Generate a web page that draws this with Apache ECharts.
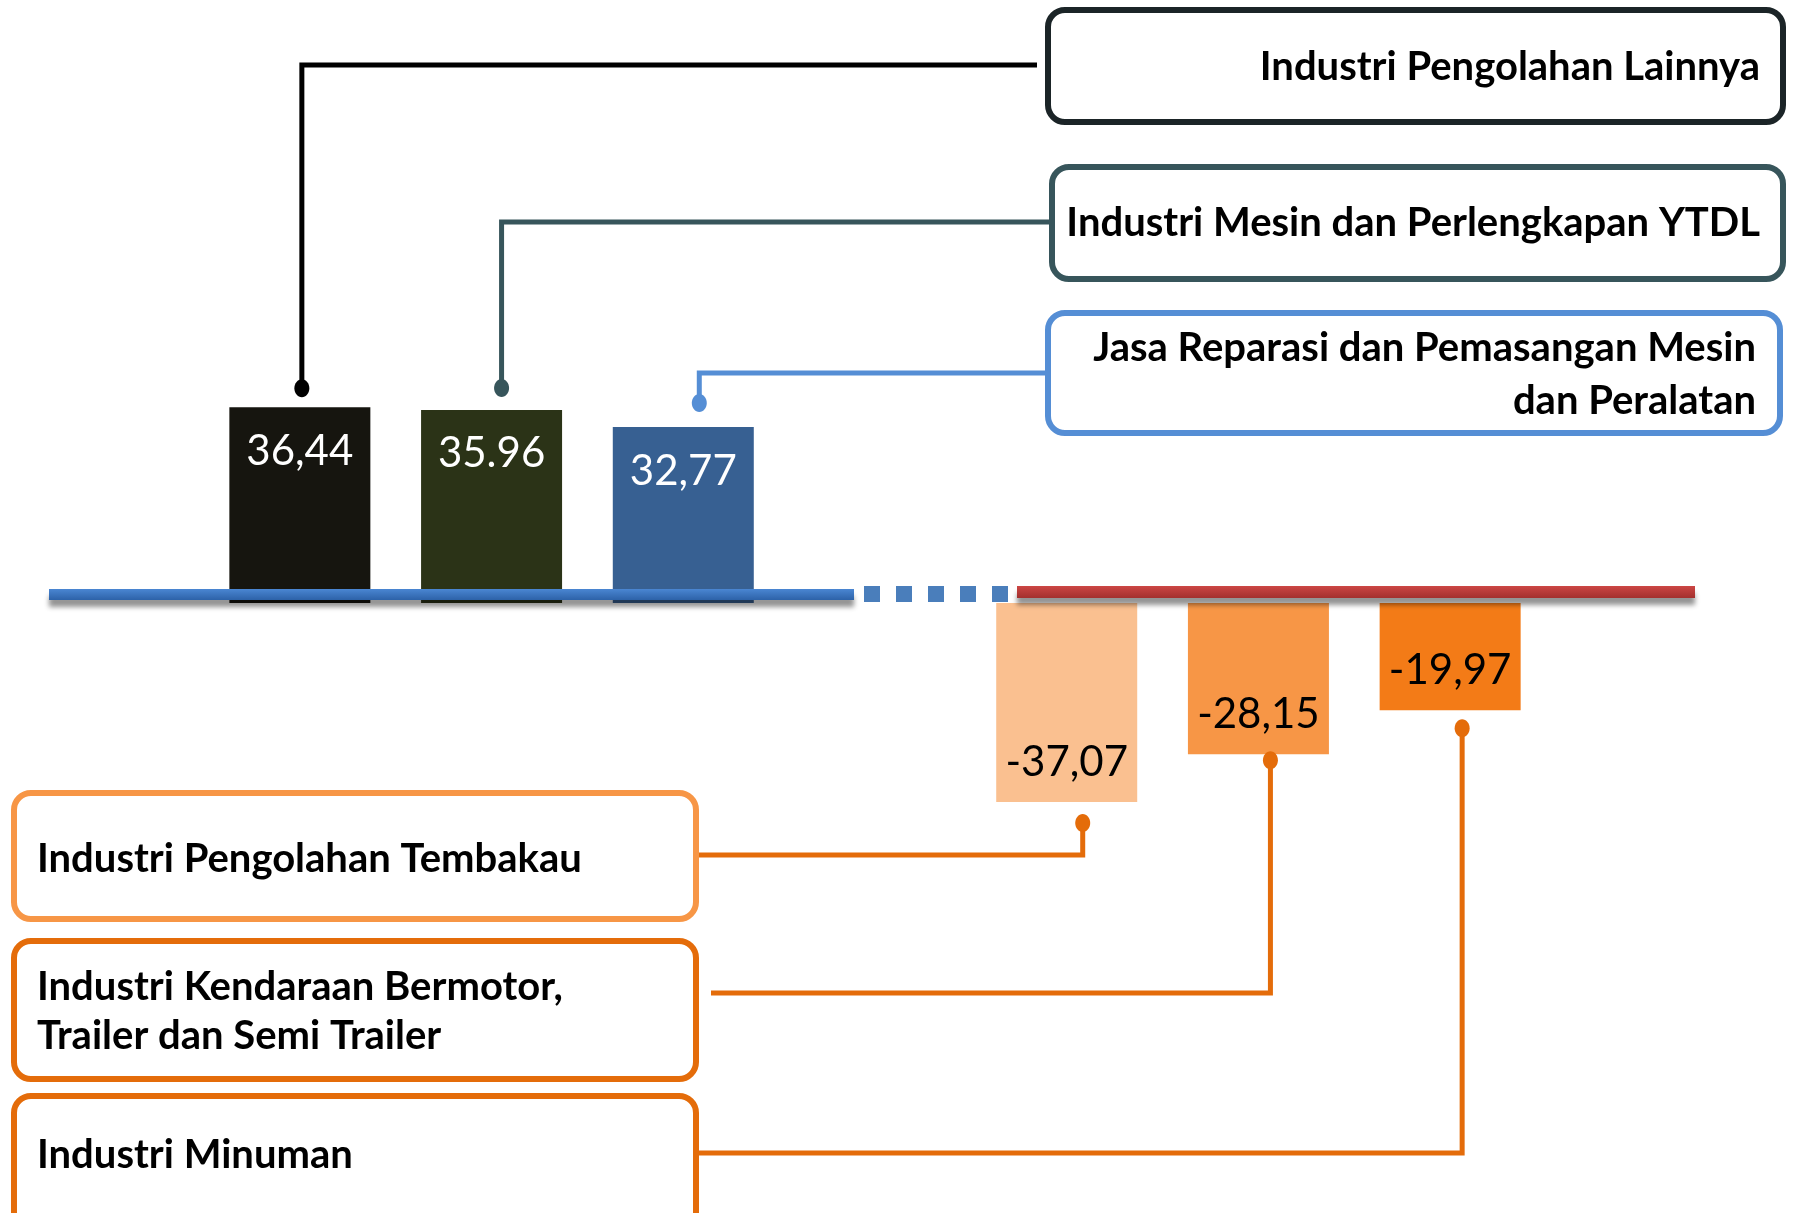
<!DOCTYPE html>
<html>
<head>
<meta charset="utf-8">
<script src="https://cdn.jsdelivr.net/npm/echarts@6/dist/echarts.min.js"></script>
<style>
  html, body { margin: 0; padding: 0; background: #ffffff; }
  #chart { width: 1797px; height: 1213px; }
</style>
</head>
<body>
<div id="chart"></div>
<script>
// Growth by industry sub-sector: three largest increases and three largest decreases.
// The empty slot in the middle separates the two groups.
const categories = [
  'Industri Pengolahan Lainnya',
  'Industri Mesin dan Perlengkapan YTDL',
  'Jasa Reparasi dan Pemasangan Mesin\ndan Peralatan',
  '',
  'Industri Pengolahan Tembakau',
  'Industri Kendaraan Bermotor,\nTrailer dan Semi Trailer',
  'Industri Minuman'
];
const values = [36.44, 35.96, 32.77, null, -37.07, -28.15, -19.97];
const decimalMarks = [',', '.', ',', '', ',', ',', ','];
const barColors = ['#16150f', '#2b3317', '#376092', null, '#fac090', '#f79646', '#f37b17'];
const calloutColors = ['#1b2427', '#37555b', '#558ed5', null, '#f79646', '#e46c0a', '#e46c0a'];
const connectorColors = ['#000000', '#37555b', '#558ed5', null, '#e46c0a', '#e46c0a', '#e46c0a'];

const FONT = 'Lato, "Noto Sans", sans-serif';

const chart = echarts.init(document.getElementById('chart'), null, { renderer: 'canvas' });

chart.setOption({
  animation: false,
  grid: { left: 204, right: 251, top: 66, bottom: 73 },
  xAxis: { type: 'category', data: categories, show: false },
  yAxis: { type: 'value', min: -100, max: 100, show: false },
  series: [{
    type: 'bar',
    barWidth: 141,
    label: {
      show: true,
      fontFamily: FONT,
      fontSize: 42,
      formatter: p => p.value.toFixed(2).replace('.', decimalMarks[p.dataIndex])
    },
    data: values.map((v, i) => v == null ? null : {
      value: v,
      itemStyle: { color: barColors[i] },
      label: {
        position: v >= 0 ? 'insideTop' : 'insideBottom',
        distance: v >= 0 ? 23 : 19,
        color: v >= 0 ? '#ffffff' : '#000000'
      }
    })
  }]
});

// Callout boxes: outer bounds, text anchor and which side the connector attaches to.
const boxes = [
  { i: 0, x: 1045, y: 7,    w: 741, h: 118, side: 'left',  tx: 1760, ty: 67,    lh: 53, hy: 65,   gap: 8,  dx: 2,  dy: -19 },
  { i: 1, x: 1049, y: 164,  w: 737, h: 118, side: 'left',  tx: 1760, ty: 223,   lh: 53, hy: 222,  gap: 0,  dx: 10, dy: -22 },
  { i: 2, x: 1045, y: 310,  w: 738, h: 126, side: 'left',  tx: 1756, ty: 374.5, lh: 53, hy: 373,  gap: 0,  dx: 16, dy: -24 },
  { i: 4, x: 11,   y: 790,  w: 688, h: 132, side: 'right', tx: 37,   ty: 859,   lh: 49, hy: 855,  gap: 0,  dx: 16, dy: 21 },
  { i: 5, x: 11,   y: 938,  w: 688, h: 144, side: 'right', tx: 37,   ty: 1011.5,lh: 49, hy: 993,  gap: 12, dx: 12, dy: 6 },
  { i: 6, x: 11,   y: 1093, w: 688, h: 150, side: 'right', tx: 37,   ty: 1155,  lh: 49, hy: 1153, gap: 0,  dx: 12, dy: 18 }
];

const graphics = [];
const zeroY = chart.convertToPixel({ yAxisIndex: 0 }, 0);

// Baseline: solid blue under the gains, dashed link, red under the losses.
const shadow = { shadowBlur: 5, shadowOffsetY: 7, shadowOffsetX: 0, shadowColor: 'rgba(0,0,0,0.42)' };
graphics.push({
  type: 'rect', z: 10,
  shape: { x: 49, y: zeroY - 14, width: 805, height: 11 },
  style: Object.assign({
    fill: new echarts.graphic.LinearGradient(0, 0, 0, 1, [
      { offset: 0, color: '#4a86d2' }, { offset: 1, color: '#2d62a8' }
    ])
  }, shadow)
});
for (let k = 0; k < 5; k++) {
  graphics.push({
    type: 'rect', z: 10,
    shape: { x: 864 + 32 * k, y: zeroY - 17, width: 16, height: 16 },
    style: { fill: '#4a7ebb' }
  });
}
graphics.push({
  type: 'rect', z: 10,
  shape: { x: 1017, y: zeroY - 17, width: 678, height: 12 },
  style: Object.assign({
    fill: new echarts.graphic.LinearGradient(0, 0, 0, 1, [
      { offset: 0, color: '#cc4644' }, { offset: 1, color: '#a3302e' }
    ])
  }, shadow)
});

boxes.forEach(b => {
  const v = values[b.i];
  const p = chart.convertToPixel({ xAxisIndex: 0, yAxisIndex: 0 }, [b.i, v]);
  const dotX = p[0] + b.dx;
  const dotY = p[1] + b.dy;
  const color = connectorColors[b.i];
  const endX = b.side === 'left' ? b.x - b.gap : b.x + b.w + b.gap;

  // rounded callout frame
  graphics.push({
    type: 'rect', z: 11,
    shape: { x: b.x + 3, y: b.y + 3, width: b.w - 6, height: b.h - 6, r: 17 },
    style: { fill: '#ffffff', stroke: calloutColors[b.i], lineWidth: 6 }
  });
  graphics.push({
    type: 'text', z: 12,
    style: {
      text: categories[b.i],
      x: b.tx, y: b.ty,
      align: b.side === 'left' ? 'right' : 'left',
      verticalAlign: 'middle',
      font: 'bold 40px ' + FONT,
      lineHeight: b.lh,
      fill: '#000000'
    }
  });
  // elbow connector from the bar to the callout
  graphics.push({
    type: 'polyline', z: 10,
    shape: { points: [[dotX, dotY], [dotX, b.hy], [endX, b.hy]] },
    style: { stroke: color, lineWidth: 5, fill: null }
  });
  graphics.push({
    type: 'ellipse', z: 10,
    shape: { cx: dotX, cy: dotY, rx: 7.5, ry: 9 },
    style: { fill: color }
  });
});

chart.setOption({ graphic: { elements: graphics } });
</script>
</body>
</html>
